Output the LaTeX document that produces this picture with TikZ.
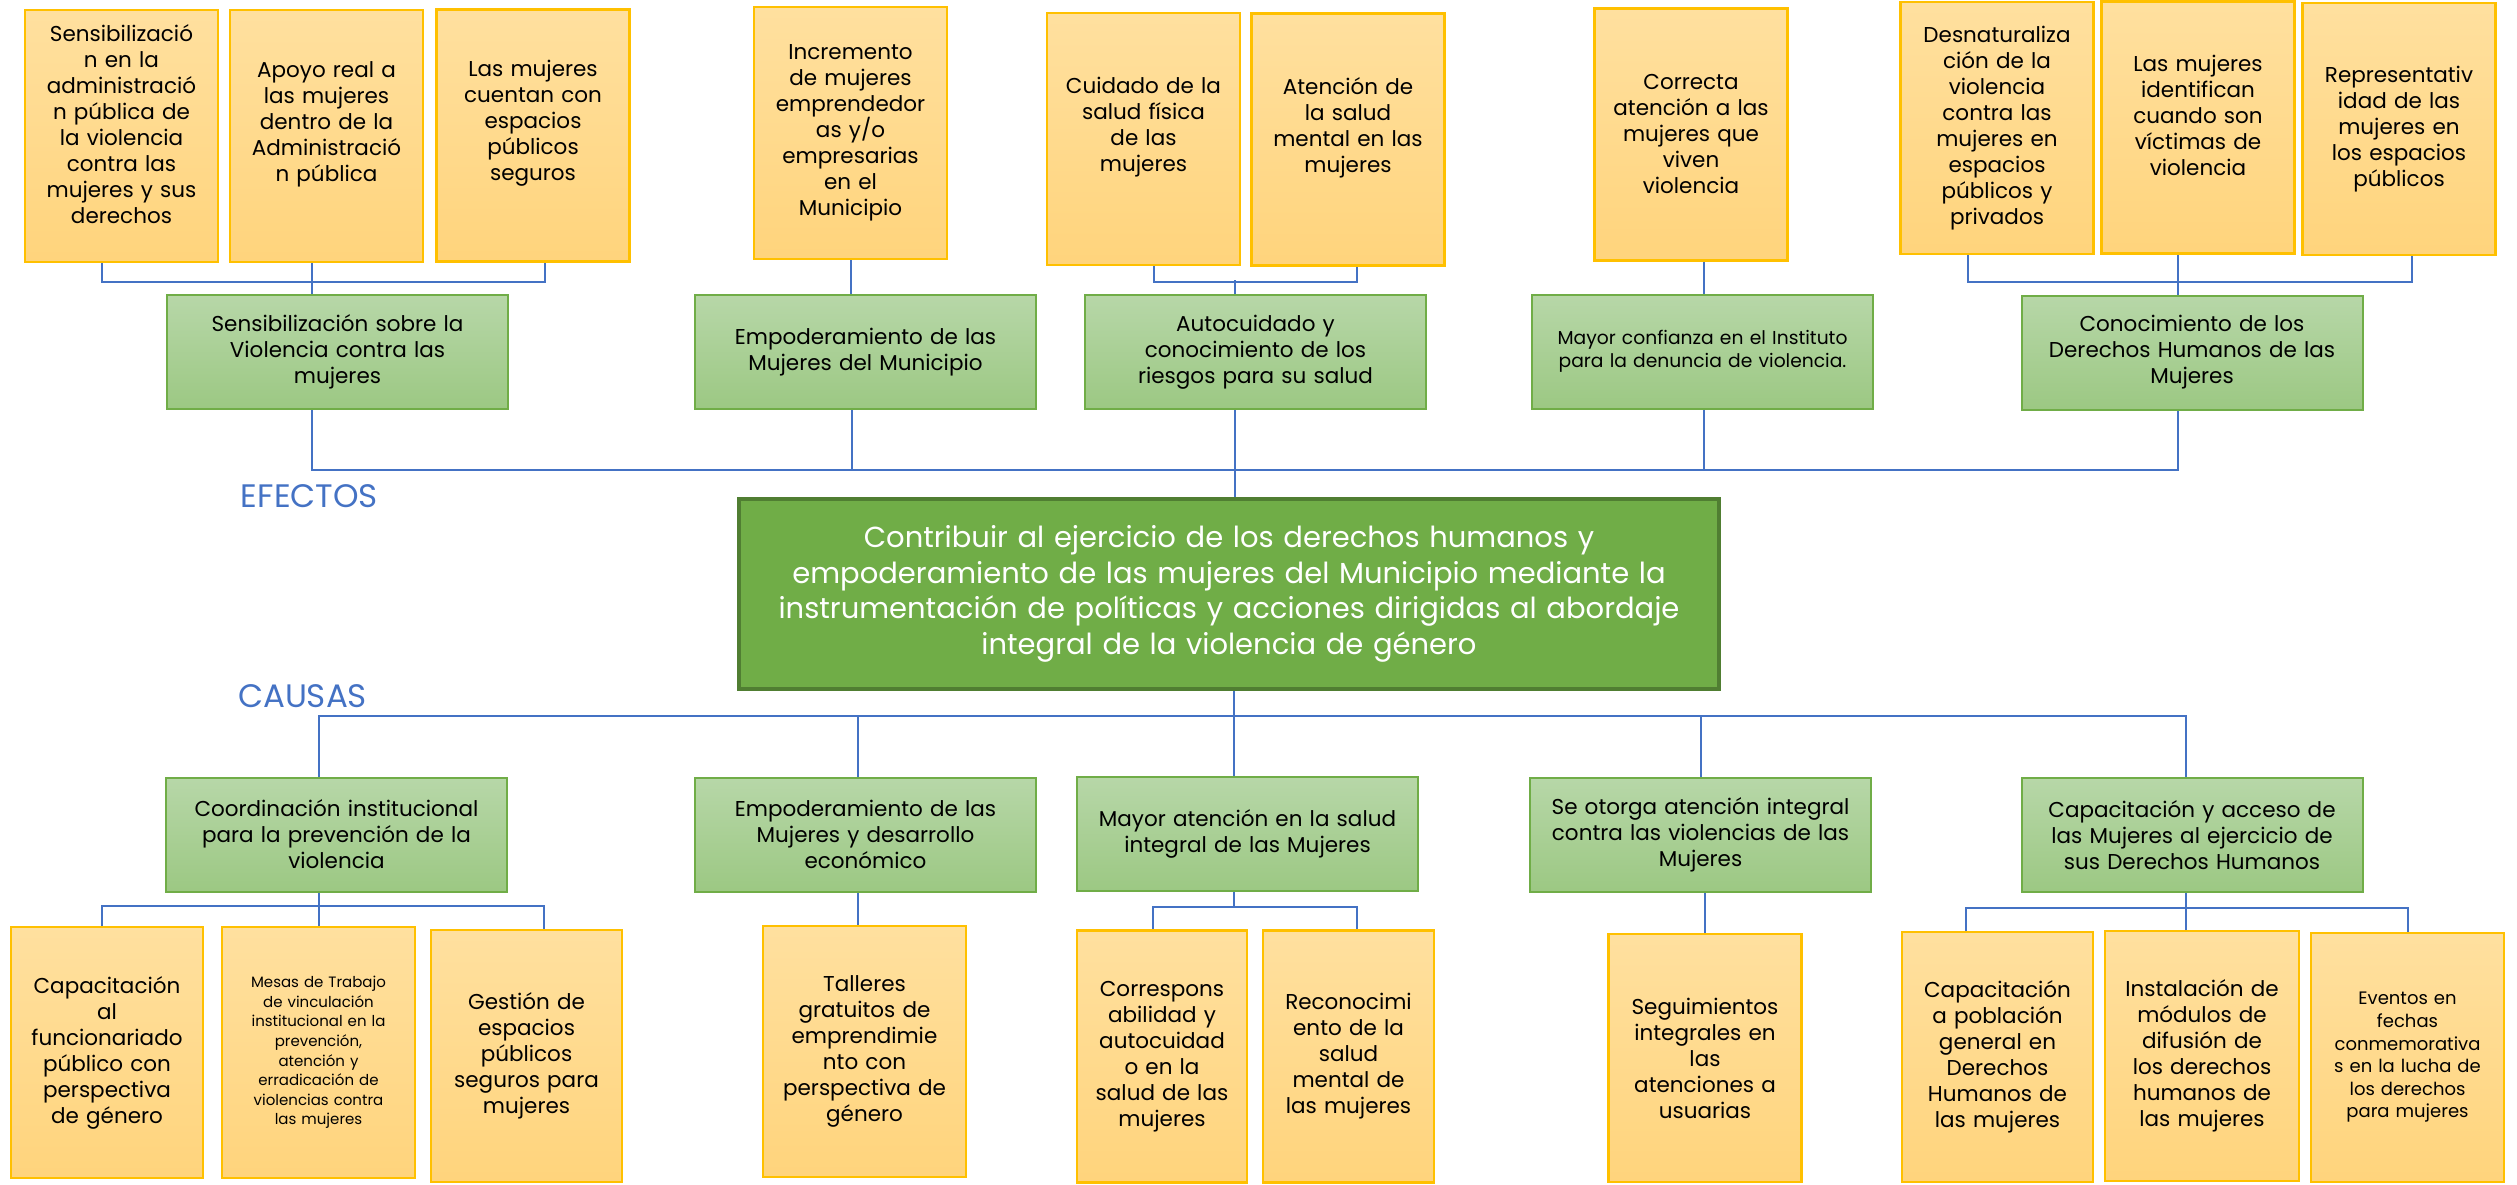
\documentclass[tikz,border=0pt]{standalone}
\usepackage{fontspec}
\setmainfont{Poppins}

\definecolor{linkblue}{HTML}{4472C4}
\definecolor{ambertop}{HTML}{FFE09F}
\definecolor{amberbot}{HTML}{FFD47C}
\definecolor{amberline}{HTML}{FFC000}
\definecolor{sagetop}{HTML}{B7D7A8}
\definecolor{sagebot}{HTML}{9CC883}
\definecolor{sageline}{HTML}{70AD47}
\definecolor{goalfill}{HTML}{70AD47}
\definecolor{goalline}{HTML}{507E32}

\tikzset{
  leafbox/.style={draw=amberline, line width=2.5pt, top color=ambertop, bottom color=amberbot,
    minimum width=193pt, minimum height=252pt, text width=187pt, inner sep=1pt, align=center,
    font=\fontsize{21.5}{26}\selectfont},
  branchbox/.style={draw=sageline, line width=2pt, top color=sagetop, bottom color=sagebot,
    minimum width=341pt, minimum height=114pt, text width=335pt, inner sep=1pt, align=center,
    font=\fontsize{21.5}{26}\selectfont},
  goalbox/.style={draw=goalline, line width=3.5pt, fill=goalfill, text=white,
    minimum width=980pt, minimum height=190pt, text width=974pt, inner sep=1pt, align=center,
    font=\fontsize{29}{35.7}\selectfont},
  heading/.style={text=linkblue, font=\fontsize{32.5}{38}\selectfont, inner sep=0pt},
  lifted/.style={execute at end node={\par\vskip24pt\hrule height0pt}},
  link/.style={draw=linkblue, line width=2pt}
}

\begin{document}
\begin{tikzpicture}[x=1pt, y=-1pt]
\useasboundingbox (0,0) rectangle (2517,1184);

% === Effects: leaves ===
\node[leafbox, lifted] (EffLeaf-1) at (121.5,136) {Sensibilizació\\n en la\\administració\\n pública de\\la violencia\\contra las\\mujeres y sus\\derechos};
\node[leafbox, lifted] (EffLeaf-2) at (326.5,136) {Apoyo real a\\las mujeres\\dentro de la\\Administració\\n pública};
\node[leafbox, lifted] (EffLeaf-3) at (533,135.5) {Las mujeres\\cuentan con\\espacios\\públicos\\seguros};
\node[leafbox] (EffLeaf-4) at (850.5,133) {Incremento\\de mujeres\\emprendedor\\as y/o\\empresarias\\en el\\Municipio};
\node[leafbox, lifted] (EffLeaf-5) at (1143.5,139) {Cuidado de la\\salud física\\de las\\mujeres};
\node[leafbox, lifted] (EffLeaf-6) at (1348,139.5) {Atención de\\la salud\\mental en las\\mujeres};
\node[leafbox] (EffLeaf-7) at (1691,134.5) {Correcta\\atención a las\\mujeres que\\viven\\violencia};
\node[leafbox] (EffLeaf-8) at (1997,128) {Desnaturaliza\\ción de la\\violencia\\contra las\\mujeres en\\espacios\\públicos y\\privados};
\node[leafbox, lifted] (EffLeaf-9) at (2198,127.5) {Las mujeres\\identifican\\cuando son\\víctimas de\\violencia};
\node[leafbox] (EffLeaf-10) at (2399,129) {Representativ\\idad de las\\mujeres en\\los espacios\\públicos};

% === Effects ===
\node[branchbox] (Effect-1) at (337.5,352) {Sensibilización sobre la\\Violencia contra las\\mujeres};
\node[branchbox] (Effect-2) at (865.5,352) {Empoderamiento de las\\Mujeres del Municipio};
\node[branchbox] (Effect-3) at (1255.5,352) {Autocuidado y\\conocimiento de los\\riesgos para su salud};
\node[branchbox, font=\fontsize{18.7}{23}\selectfont] (Effect-4) at (1702.5,351.5) {Mayor confianza en el Instituto\\para la denuncia de violencia.};
\node[branchbox] (Effect-5) at (2192,352.5) {Conocimiento de los\\Derechos Humanos de las\\Mujeres};

% === Goal ===
\node[goalbox] (Goal) at (1229,594) {Contribuir al ejercicio de los derechos humanos y\\empoderamiento de las mujeres del Municipio mediante la\\instrumentación de políticas y acciones dirigidas al abordaje\\integral de la violencia de género};

% === Labels ===
\node[heading] (efectos) at (309.5,496.5) {EFECTOS};
\node[heading] (causas) at (302.5,696) {CAUSAS};

% === Causes ===
\node[branchbox] (Cause-1) at (336.5,834.5) {Coordinación institucional\\para la prevención de la\\violencia};
\node[branchbox] (Cause-2) at (865.5,834.5) {Empoderamiento de las\\Mujeres y desarrollo\\económico};
\node[branchbox] (Cause-3) at (1247.5,834) {Mayor atención en la salud\\integral de las Mujeres};
\node[branchbox] (Cause-4) at (1700.5,834.5) {Se otorga atención integral\\contra las violencias de las\\Mujeres};
\node[branchbox] (Cause-5) at (2192,835) {Capacitación y acceso de\\las Mujeres al ejercicio de\\sus Derechos Humanos};

% === Causes: leaves ===
\node[leafbox, minimum width=192pt, minimum height=251pt] (CauseLeaf-1) at (107,1052.5) {Capacitación\\al\\funcionariado\\público con\\perspectiva\\de género};
\node[leafbox, minimum height=251pt, font=\fontsize{15}{19.6}\selectfont] (CauseLeaf-2) at (318.5,1052.5) {Mesas de Trabajo\\de vinculación\\institucional en la\\prevención,\\atención y\\erradicación de\\violencias contra\\las mujeres\\[14pt]};
\node[leafbox, minimum width=191pt] (CauseLeaf-3) at (526.5,1056) {Gestión de\\espacios\\públicos\\seguros para\\mujeres};
\node[leafbox, minimum width=203pt, minimum height=251pt] (CauseLeaf-4) at (864.5,1051.5) {Talleres\\gratuitos de\\emprendimie\\nto con\\perspectiva de\\género};
\node[leafbox, minimum width=170pt, text width=164pt] (CauseLeaf-5) at (1162,1056.5) {Correspons\\abilidad y\\autocuidad\\o en la\\salud de las\\mujeres};
\node[leafbox, minimum width=171pt, text width=165pt] (CauseLeaf-6) at (1348.5,1056.5) {Reconocimi\\ento de la\\salud\\mental de\\las mujeres};
\node[leafbox, minimum height=248pt] (CauseLeaf-7) at (1705,1058) {Seguimientos\\integrales en\\las\\atenciones a\\usuarias};
\node[leafbox, minimum width=191pt, minimum height=250pt] (CauseLeaf-8) at (1997.5,1057) {Capacitación\\a población\\general en\\Derechos\\Humanos de\\las mujeres};
\node[leafbox, minimum width=194pt, minimum height=250pt] (CauseLeaf-9) at (2202,1056) {Instalación de\\módulos de\\difusión de\\los derechos\\humanos de\\las mujeres};
\node[leafbox, minimum width=193pt, minimum height=249pt, font=\fontsize{18}{22.6}\selectfont] (CauseLeaf-10) at (2407.5,1057.5) {Eventos en\\fechas\\conmemorativa\\s en la lucha de\\los derechos\\para mujeres};

% === Connections ===
% Effect leaves -> Effects
\draw[link] ([xshift=-19.5pt]EffLeaf-1.south) -- ++(0,19) -| ([xshift=12pt]EffLeaf-3.south);
\draw[link] ([xshift=-14.5pt]EffLeaf-2.south) -- ([xshift=-25.5pt]Effect-1.north);
\draw[link] (EffLeaf-4.south) -- ([xshift=-15pt]Effect-2.north);
\draw[link] ([xshift=10.5pt]EffLeaf-5.south) -- ++(0,16) -| ([xshift=9pt]EffLeaf-6.south);
\draw[link] ([xshift=6pt]Goal.north |- Effect-3.north) -- ++(0,-14);
\draw[link] ([xshift=13pt]EffLeaf-7.south) -- ([xshift=1.5pt]Effect-4.north);
\draw[link] ([xshift=-29pt]EffLeaf-8.south) -- ++(0,27) -| ([xshift=13pt]EffLeaf-10.south);
\draw[link] ([xshift=-20pt]EffLeaf-9.south) -- ([xshift=-14pt]Effect-5.north);

% Effects -> Goal
\draw[link] ([xshift=-25.5pt]Effect-1.south) -- ++(0,60) -| ([xshift=-14pt]Effect-5.south);
\draw[link] ([xshift=-13.5pt]Effect-2.south) -- ++(0,60);
\draw[link] ([xshift=1.5pt]Effect-4.south) -- ++(0,60);
\draw[link] ([xshift=6pt]Goal.north) -- ([xshift=6pt]Goal.north |- Effect-3.south);

% Goal -> Causes
\draw[link] ([xshift=-17.5pt]Cause-1.north) -- ++(0,-61) -| ([xshift=-6pt]Cause-5.north);
\draw[link] ([xshift=-7.5pt]Cause-2.north) -- ++(0,-61);
\draw[link] (Cause-4.north) -- ++(0,-61);
\draw[link] ([xshift=5pt]Goal.south) -- ([xshift=5pt]Goal.south |- Cause-3.north);

% Causes -> Cause leaves
\draw[link] ([xshift=-5pt]CauseLeaf-1.north) -- ++(0,-20) -| ([xshift=17.5pt]CauseLeaf-3.north);
\draw[link] (CauseLeaf-2.north) -- (CauseLeaf-2.north |- Cause-1.south);
\draw[link] ([xshift=-6.5pt]CauseLeaf-4.north) -- ([xshift=-7.5pt]Cause-2.south);
\draw[link] ([xshift=-9pt]CauseLeaf-5.north) -- ++(0,-22) -| ([xshift=8.5pt]CauseLeaf-6.north);
\draw[link] ([xshift=-13.5pt]Cause-3.south) -- ++(0,16);
\draw[link] (CauseLeaf-7.north) -- (CauseLeaf-7.north |- Cause-4.south);
\draw[link] ([xshift=-31.5pt]CauseLeaf-8.north) -- ++(0,-23) -| (CauseLeaf-10.north);
\draw[link] ([xshift=-16pt]CauseLeaf-9.north) -- ([xshift=-6pt]Cause-5.south);
\end{tikzpicture}
\end{document}
